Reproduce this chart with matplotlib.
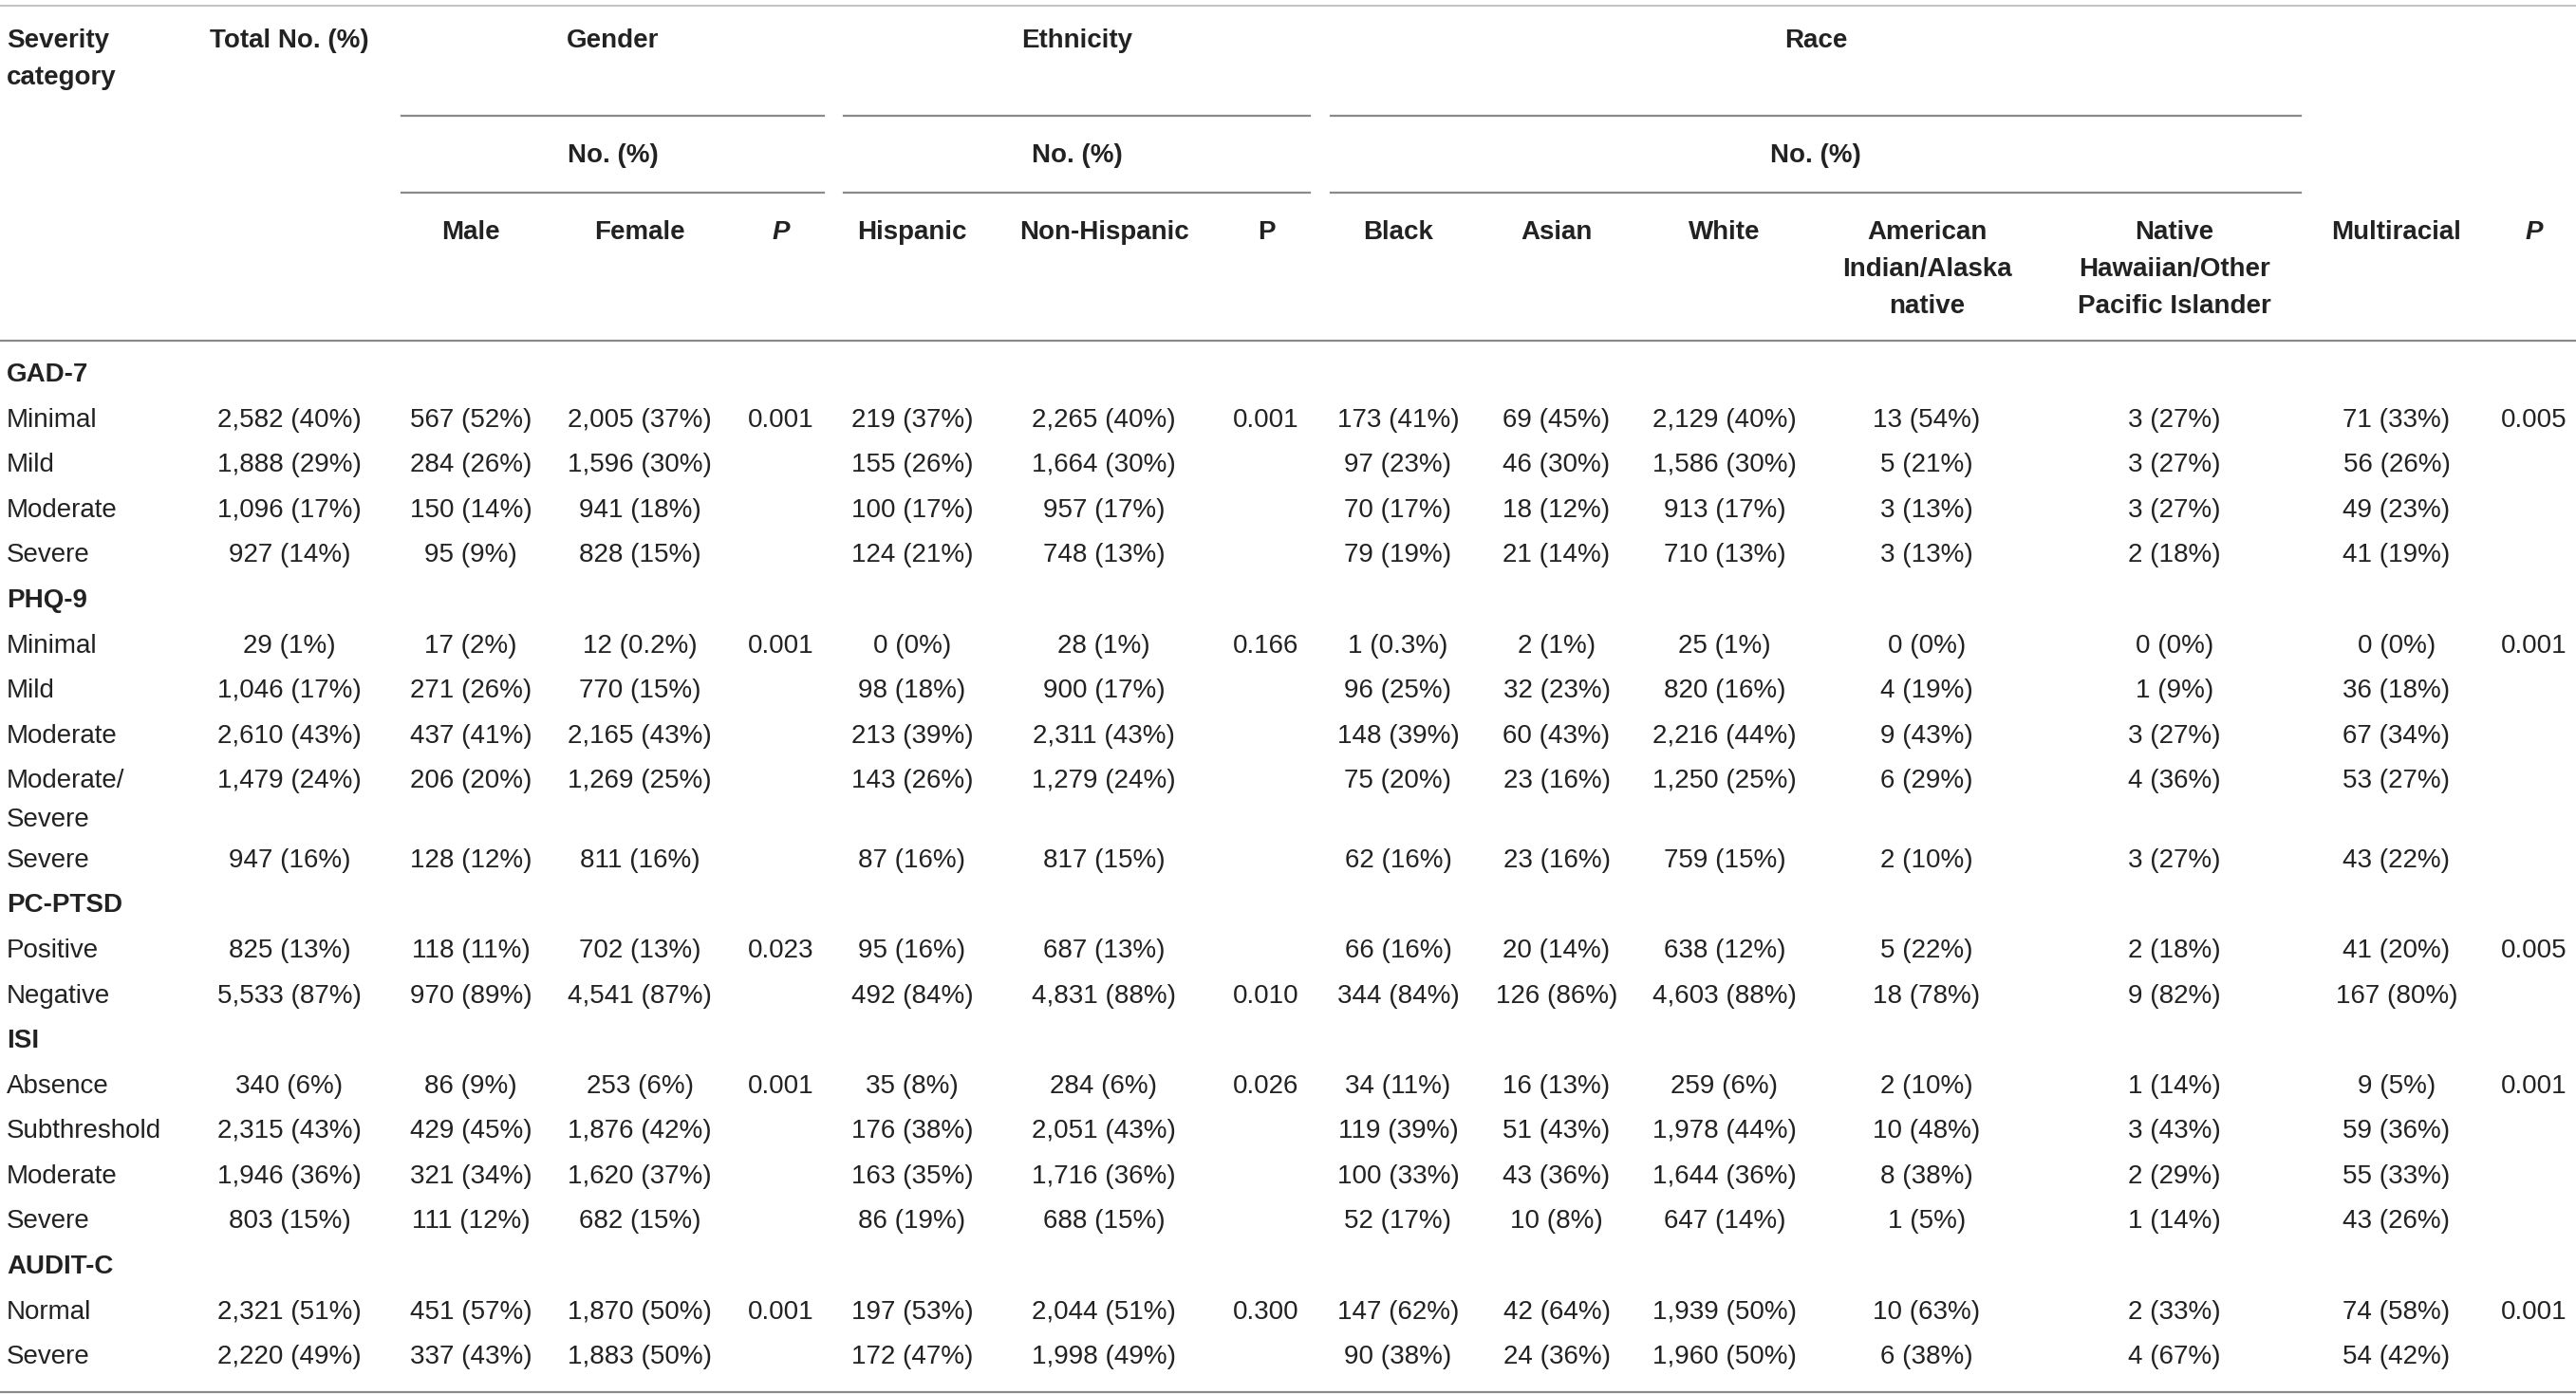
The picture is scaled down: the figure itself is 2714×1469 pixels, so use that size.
import matplotlib.pyplot as plt

plt.rcParams['font.family'] = ['Liberation Sans', 'DejaVu Sans']

# data
column_labels = ['Male', 'Female', 'P', 'Hispanic', 'Non-Hispanic', 'P',
                 'Black', 'Asian', 'White', 'American\nIndian/Alaska\nnative',
                 'Native\nHawaiian/Other\nPacific Islander', 'Multiracial', 'P']
group_labels = ['Gender', 'Ethnicity', 'Race']

gad7_rows = ['Minimal', 'Mild', 'Moderate', 'Severe']
gad7_values = [
    ['2,582 (40%)', '567 (52%)', '2,005 (37%)', '0.001', '219 (37%)', '2,265 (40%)', '0.001',
     '173 (41%)', '69 (45%)', '2,129 (40%)', '13 (54%)', '3 (27%)', '71 (33%)', '0.005'],
    ['1,888 (29%)', '284 (26%)', '1,596 (30%)', '', '155 (26%)', '1,664 (30%)', '',
     '97 (23%)', '46 (30%)', '1,586 (30%)', '5 (21%)', '3 (27%)', '56 (26%)', ''],
    ['1,096 (17%)', '150 (14%)', '941 (18%)', '', '100 (17%)', '957 (17%)', '',
     '70 (17%)', '18 (12%)', '913 (17%)', '3 (13%)', '3 (27%)', '49 (23%)', ''],
    ['927 (14%)', '95 (9%)', '828 (15%)', '', '124 (21%)', '748 (13%)', '',
     '79 (19%)', '21 (14%)', '710 (13%)', '3 (13%)', '2 (18%)', '41 (19%)', ''],
]

phq9_rows = ['Minimal', 'Mild', 'Moderate', 'Moderate/\nSevere', 'Severe']
phq9_values = [
    ['29 (1%)', '17 (2%)', '12 (0.2%)', '0.001', '0 (0%)', '28 (1%)', '0.166',
     '1 (0.3%)', '2 (1%)', '25 (1%)', '0 (0%)', '0 (0%)', '0 (0%)', '0.001'],
    ['1,046 (17%)', '271 (26%)', '770 (15%)', '', '98 (18%)', '900 (17%)', '',
     '96 (25%)', '32 (23%)', '820 (16%)', '4 (19%)', '1 (9%)', '36 (18%)', ''],
    ['2,610 (43%)', '437 (41%)', '2,165 (43%)', '', '213 (39%)', '2,311 (43%)', '',
     '148 (39%)', '60 (43%)', '2,216 (44%)', '9 (43%)', '3 (27%)', '67 (34%)', ''],
    ['1,479 (24%)', '206 (20%)', '1,269 (25%)', '', '143 (26%)', '1,279 (24%)', '',
     '75 (20%)', '23 (16%)', '1,250 (25%)', '6 (29%)', '4 (36%)', '53 (27%)', ''],
    ['947 (16%)', '128 (12%)', '811 (16%)', '', '87 (16%)', '817 (15%)', '',
     '62 (16%)', '23 (16%)', '759 (15%)', '2 (10%)', '3 (27%)', '43 (22%)', ''],
]

pcptsd_rows = ['Positive', 'Negative']
pcptsd_values = [
    ['825 (13%)', '118 (11%)', '702 (13%)', '0.023', '95 (16%)', '687 (13%)', '',
     '66 (16%)', '20 (14%)', '638 (12%)', '5 (22%)', '2 (18%)', '41 (20%)', '0.005'],
    ['5,533 (87%)', '970 (89%)', '4,541 (87%)', '', '492 (84%)', '4,831 (88%)', '0.010',
     '344 (84%)', '126 (86%)', '4,603 (88%)', '18 (78%)', '9 (82%)', '167 (80%)', ''],
]

isi_rows = ['Absence', 'Subthreshold', 'Moderate', 'Severe']
isi_values = [
    ['340 (6%)', '86 (9%)', '253 (6%)', '0.001', '35 (8%)', '284 (6%)', '0.026',
     '34 (11%)', '16 (13%)', '259 (6%)', '2 (10%)', '1 (14%)', '9 (5%)', '0.001'],
    ['2,315 (43%)', '429 (45%)', '1,876 (42%)', '', '176 (38%)', '2,051 (43%)', '',
     '119 (39%)', '51 (43%)', '1,978 (44%)', '10 (48%)', '3 (43%)', '59 (36%)', ''],
    ['1,946 (36%)', '321 (34%)', '1,620 (37%)', '', '163 (35%)', '1,716 (36%)', '',
     '100 (33%)', '43 (36%)', '1,644 (36%)', '8 (38%)', '2 (29%)', '55 (33%)', ''],
    ['803 (15%)', '111 (12%)', '682 (15%)', '', '86 (19%)', '688 (15%)', '',
     '52 (17%)', '10 (8%)', '647 (14%)', '1 (5%)', '1 (14%)', '43 (26%)', ''],
]

auditc_rows = ['Normal', 'Severe']
auditc_values = [
    ['2,321 (51%)', '451 (57%)', '1,870 (50%)', '0.001', '197 (53%)', '2,044 (51%)', '0.300',
     '147 (62%)', '42 (64%)', '1,939 (50%)', '10 (63%)', '2 (33%)', '74 (58%)', '0.001'],
    ['2,220 (49%)', '337 (43%)', '1,883 (50%)', '', '172 (47%)', '1,998 (49%)', '',
     '90 (38%)', '24 (36%)', '1,960 (50%)', '6 (38%)', '4 (67%)', '54 (42%)', ''],
]

sections = [('GAD-7', gad7_rows, gad7_values),
            ('PHQ-9', phq9_rows, phq9_values),
            ('PC-PTSD', pcptsd_rows, pcptsd_values),
            ('ISI', isi_rows, isi_values),
            ('AUDIT-C', auditc_rows, auditc_values)]

# layout (pixel coordinates)
W, H = 2714, 1469
col_x = [305, 496, 674, 823, 961, 1163, 1334, 1473, 1640, 1817, 2030, 2291, 2525, 2670]
group_span = [(423, 868), (889, 1380), (1402, 2424)]
italic_cols = {3, 13}
fs = 20
txt_col = '#222222'
line_col = '#8a8a8a'
pitch = 47.6
wrap_gap = 41

fig = plt.figure(figsize=(W / 100, H / 100), dpi=100)
ax = fig.add_axes([0, 0, 1, 1])
ax.set_xlim(0, W)
ax.set_ylim(H, 0)
ax.axis('off')

# header
ax.plot([0, W], [6, 6], color='#c4c4c4', lw=1.5)
ax.text(7, 43, 'Severity', fontsize=fs, fontweight='bold', va='center', ha='left', color=txt_col)
ax.text(7, 82, 'category', fontsize=fs, fontweight='bold', va='center', ha='left', color=txt_col)
ax.text(col_x[0], 43, 'Total No. (%)', fontsize=fs, fontweight='bold', va='center', ha='center',
        color=txt_col)
for lab, (x0, x1) in zip(group_labels, group_span):
    xc = (x0 + x1) / 2
    ax.text(xc, 43, lab, fontsize=fs, fontweight='bold', va='center', ha='center', color=txt_col)
    ax.text(xc, 164, 'No. (%)', fontsize=fs, fontweight='bold', va='center', ha='center',
            color=txt_col)
    ax.plot([x0, x1], [122, 122], color=line_col, lw=1.6)
    ax.plot([x0, x1], [203, 203], color=line_col, lw=1.6)

for i, lab in enumerate(column_labels):
    for k, part in enumerate(lab.split('\n')):
        ax.text(col_x[i + 1], 245 + k * 39, part, fontsize=fs, fontweight='bold', va='center',
                ha='center', color=txt_col,
                style='italic' if (i + 1) in italic_cols else 'normal')

ax.plot([0, W], [359, 359], color=line_col, lw=1.6)

# body
y = 395
for title, rows, values in sections:
    ax.text(7, y, title, fontsize=fs, fontweight='bold', va='center', ha='left', color=txt_col)
    y += pitch
    for lab, vals in zip(rows, values):
        parts = lab.split('\n')
        for k, part in enumerate(parts):
            ax.text(7, y + k * wrap_gap, part, fontsize=fs, va='center', ha='left', color=txt_col)
        for x, v in zip(col_x, vals):
            if v:
                ax.text(x, y, v, fontsize=fs, va='center', ha='center', color=txt_col)
        y += pitch * (1 + 0.75 * (len(parts) - 1))

ax.plot([0, W], [1467, 1467], color=line_col, lw=1.6)

fig.savefig('out.png', dpi=100, facecolor='white')
